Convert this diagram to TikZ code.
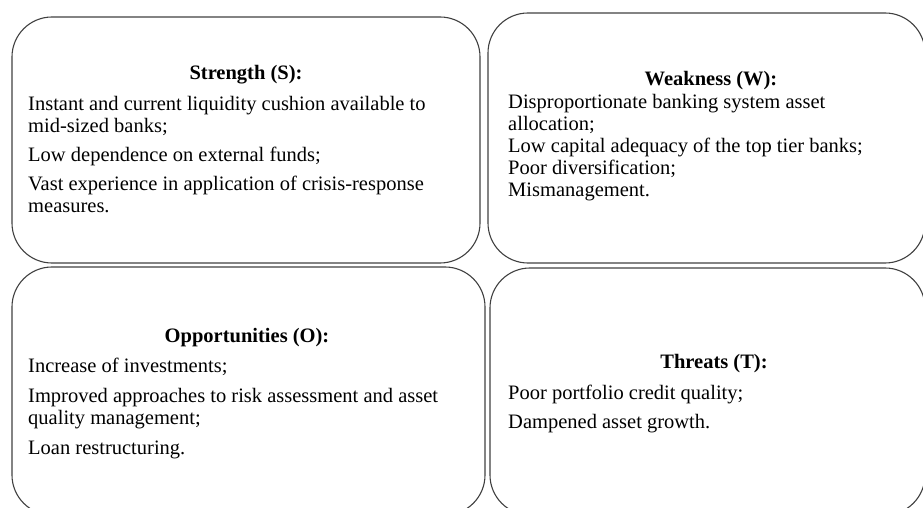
\documentclass[tikz,border=0pt]{standalone}
\usepackage{fontspec}
\setmainfont{Liberation Serif}
\usetikzlibrary{positioning}

\tikzset{
  swotbox/.style={draw=black!75, line width=1.1bp, rounded corners=40bp, inner sep=0pt},
  swottitle/.style={font=\fontsize{20.5bp}{22bp}\selectfont\bfseries, anchor=base, inner sep=0pt},
  swottext/.style={font=\fontsize{20.5bp}{22bp}\selectfont, align=left, anchor=north west, inner sep=0pt}
}

\begin{document}
\begin{tikzpicture}[x=1bp, y=-1bp]
        \clip (0, 0) rectangle (923, 508);
        % the four quadrants
        \node[swotbox, minimum width=468bp, minimum height=246bp] (S) at (246, 140) {};
        \node[swotbox, minimum width=437bp, minimum height=250bp] (W) at (706.5, 138) {};
        \node[swotbox, minimum width=473bp, minimum height=248bp] (O) at (248.5, 391) {};
        \node[swotbox, minimum width=435bp, minimum height=247bp] (T) at (707.5, 391.5) {};
        % headings
        \node[swottitle] (Stitle) at (246, 80) {Strength (S):};
        \node[swottitle] (Wtitle) at (711, 86) {Weakness (W):};
        \node[swottitle] (Otitle) at (247, 343) {Opportunities (O):};
        \node[swottitle] (Ttitle) at (714, 369) {Threats (T):};
        % items
        \node[swottext] (Sitems) at (28, 96) {Instant and current liquidity cushion available to\\
                mid-sized banks;\\[7bp]
                Low dependence on external funds;\\[7bp]
                Vast experience in application of crisis-response\\
                measures.};
        \node[swottext] (Witems) at (508, 94) {Disproportionate banking system asset\\
                allocation;\\
                Low capital adequacy of the top tier banks;\\
                Poor diversification;\\
                Mismanagement.};
        \node[swottext] (Oitems) at (28, 358) {Increase of investments;\\[8bp]
                Improved approaches to risk assessment and asset\\
                quality management;\\[8bp]
                Loan restructuring.};
        \node[swottext] (Titems) at (508, 385) {Poor portfolio credit quality;\\[7bp]
                Dampened asset growth.};
\end{tikzpicture}
\end{document}
